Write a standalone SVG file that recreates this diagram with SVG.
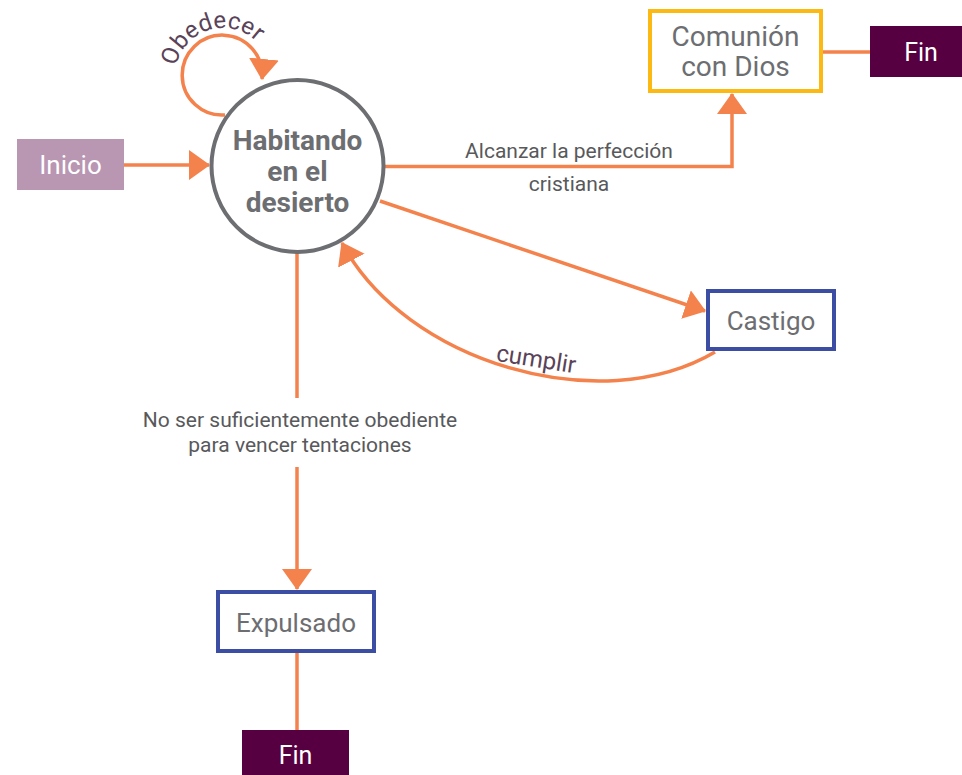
<svg xmlns="http://www.w3.org/2000/svg" width="962" height="775" viewBox="0 0 962 775">
  <style>
    .lnk { fill: none; stroke: #f4824c; stroke-width: 3.5; }
    .box { fill: #ffffff; stroke-width: 4; }
    .ttl { font-family: Roboto, "Liberation Sans", sans-serif; fill: #6d6e71; text-anchor: middle; }
    .lbl { font-family: Roboto, "Liberation Sans", sans-serif; fill: #58595b; font-size: 21px; text-anchor: middle; }
    .edge { font-family: Roboto, "Liberation Sans", sans-serif; fill: #5a4358; font-size: 24px; }
    .term { font-family: Roboto, "Liberation Sans", sans-serif; fill: #ffffff; text-anchor: middle; }
  </style>
  <defs>
    <marker id="arrow" markerUnits="userSpaceOnUse" markerWidth="21" markerHeight="30" viewBox="0 0 21 30" refX="20" refY="15" orient="auto">
      <path d="M0,0 L21,15 L0,30 z" fill="#f4824c"/>
    </marker>
    <!-- baseline arc for the loop label, around the loop centre (223,76) -->
    <path id="loopText" d="M175.7 67.7 A48 48 0 0 1 257.5 42.7"/>
  </defs>

  <rect width="962" height="775" fill="#ffffff"/>

  <!-- connectors -->
  <g id="connectors">
    <path class="lnk" d="M124 165 H209" marker-end="url(#arrow)"/>
    <path class="lnk" d="M225 115 A40 40 0 1 1 262 79" marker-end="url(#arrow)"/>
    <path class="lnk" d="M384 166.5 H732 V94" marker-end="url(#arrow)"/>
    <path class="lnk" d="M823 52 H870"/>
    <path class="lnk" d="M380 201 L705 311" marker-end="url(#arrow)"/>
    <path class="lnk" d="M715 352 C600 420 405 362 342 243" marker-end="url(#arrow)"/>
    <path class="lnk" d="M297 253 V398"/>
    <path class="lnk" d="M297 467 V589" marker-end="url(#arrow)"/>
    <path class="lnk" d="M297 653 V730"/>

    <text class="edge"><textPath href="#loopText" startOffset="50%" text-anchor="middle">Obedecer</textPath></text>
    <text class="lbl" x="569" y="158">Alcanzar la perfección</text>
    <text class="lbl" x="569" y="191">cristiana</text>
    <text class="edge" text-anchor="middle" transform="translate(535 367) rotate(9)">cumplir</text>
    <text class="lbl" x="300" y="427">No ser suficientemente obediente</text>
    <text class="lbl" x="300" y="452">para vencer tentaciones</text>
  </g>

  <g id="inicio">
    <rect x="17" y="139" width="107" height="51" fill="#b996b2"/>
    <text class="term" x="70.5" y="174" font-size="26">Inicio</text>
  </g>

  <g id="habitando">
    <circle cx="297.5" cy="166" r="86" fill="#ffffff" stroke="#6d6e71" stroke-width="4"/>
    <text class="ttl" x="297.5" y="150" font-size="28" font-weight="bold">Habitando</text>
    <text class="ttl" x="297.5" y="181" font-size="28" font-weight="bold">en el</text>
    <text class="ttl" x="297.5" y="212" font-size="28" font-weight="bold">desierto</text>
  </g>

  <g id="comunion">
    <rect class="box" x="650" y="11" width="171" height="80" stroke="#fdb913"/>
    <text class="ttl" x="735.5" y="46" font-size="28">Comunión</text>
    <text class="ttl" x="735.5" y="76" font-size="28">con Dios</text>
  </g>

  <g id="fin-comunion">
    <rect x="870" y="26" width="92" height="51" fill="#570041"/>
    <text class="term" x="921" y="61" font-size="25">Fin</text>
  </g>

  <g id="castigo">
    <rect class="box" x="708" y="291" width="126" height="58" stroke="#3b4ea3"/>
    <text class="ttl" x="771" y="330" font-size="26">Castigo</text>
  </g>

  <g id="expulsado">
    <rect class="box" x="218" y="592" width="156" height="59" stroke="#3b4ea3"/>
    <text class="ttl" x="296" y="632" font-size="26">Expulsado</text>
  </g>

  <g id="fin-expulsado">
    <rect x="242" y="730" width="107" height="45" fill="#570041"/>
    <text class="term" x="295.5" y="764" font-size="25">Fin</text>
  </g>
</svg>
